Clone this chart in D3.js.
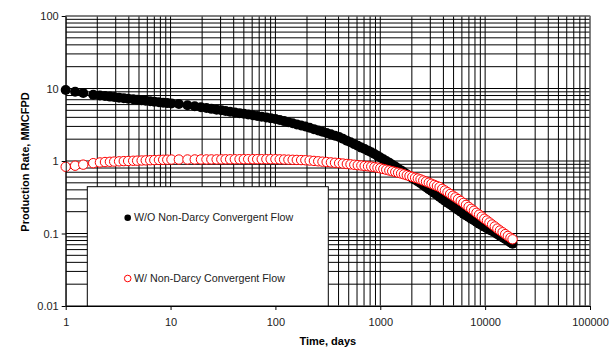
<!DOCTYPE html>
<html>
<head>
<meta charset="utf-8">
<script src="https://cdn.jsdelivr.net/npm/d3@7"></script>
<style>
  body { margin: 0; background: #fff; }
  svg { display: block; font-family: Arial, "Liberation Sans", sans-serif; }
</style>
</head>
<body>
<svg id="chart" width="616" height="347"></svg>
<script>
// Production time, days
const times = [
  1, 1.23, 1.47, 1.83, 2.12, 2.37, 2.64, 2.9, 3.23, 3.58, 3.94, 4.4, 4.8, 5.3, 5.8, 6.4, 7, 7.75, 8.5, 9.3, 10.2,
  12, 14.5, 17, 19.5, 22, 24.5, 27.5, 30.5, 33.5, 37,
  41, 45.5, 50, 55, 61, 67, 74, 82, 90, 100,
  110, 121, 133, 146, 160, 176, 193, 212, 233, 256,
  281, 308, 338, 370, 405, 440, 480, 520, 565, 610,
  660, 710, 765, 820, 880, 940, 1000, 1070, 1140, 1220,
  1300, 1390, 1480, 1580, 1680, 1790, 1900, 2020, 2150, 2280,
  2420, 2570, 2730, 2900, 3080, 3270, 3470, 3680, 3900, 4130,
  4380, 4640, 4920, 5210, 5520, 5850, 6200, 6570, 6960, 7370,
  7810, 8270, 8760, 9280, 9830, 10400, 11000, 11650, 12350, 13080,
  13850, 14670, 15540, 16460, 17430, 18250
];

// Gas rate without non-Darcy convergent flow, MMCFPD
const rateWithout = [
  9.51, 9.04, 8.65, 8.20, 8.00, 7.87, 7.73, 7.62, 7.48, 7.36, 7.25, 7.12, 7.02, 6.90, 6.80, 6.68, 6.59, 6.48, 6.38, 6.29, 6.23,
  6.10, 5.88, 5.68, 5.51, 5.37, 5.24, 5.11, 5.00, 4.89, 4.79,
  4.68, 4.57, 4.48, 4.38, 4.27, 4.18, 4.08, 3.98, 3.90, 3.80,
  3.67, 3.55, 3.42, 3.31, 3.20, 3.09, 2.99, 2.87, 2.75, 2.64,
  2.53, 2.43, 2.33, 2.23, 2.14, 2.03, 1.91, 1.81, 1.71, 1.62,
  1.53, 1.46, 1.39, 1.32, 1.25, 1.18, 1.12, 1.06, 1.00, 0.945,
  0.890, 0.838, 0.790, 0.742, 0.698, 0.656, 0.620, 0.585, 0.552, 0.521,
  0.492, 0.463, 0.435, 0.409, 0.385, 0.361, 0.339, 0.318, 0.299, 0.283,
  0.266, 0.251, 0.237, 0.223, 0.211, 0.199, 0.188, 0.178, 0.169, 0.160,
  0.152, 0.144, 0.136, 0.130, 0.124, 0.118, 0.113, 0.108, 0.103, 0.098,
  0.0933, 0.0885, 0.0839, 0.0796, 0.0755, 0.0724
];

// Gas rate with non-Darcy convergent flow, MMCFPD
const rateWith = [
  0.832, 0.861, 0.891, 0.933, 0.955, 0.968, 0.975, 0.982, 0.989, 0.996, 1.000, 1.007, 1.011, 1.016, 1.020, 1.025, 1.029, 1.035, 1.039, 1.043, 1.047,
  1.048, 1.049, 1.050, 1.051, 1.051, 1.052, 1.052, 1.053, 1.055, 1.056,
  1.057, 1.058, 1.059, 1.059, 1.059, 1.059, 1.059, 1.059, 1.059, 1.059,
  1.054, 1.049, 1.044, 1.039, 1.035, 1.030, 1.025, 1.015, 1.003, 0.991,
  0.979, 0.968, 0.956, 0.945, 0.934, 0.922, 0.910, 0.899, 0.887, 0.876,
  0.866, 0.856, 0.846, 0.837, 0.824, 0.810, 0.795, 0.776, 0.758, 0.740,
  0.723, 0.706, 0.690, 0.673, 0.655, 0.637, 0.621, 0.604, 0.588, 0.574,
  0.557, 0.538, 0.520, 0.502, 0.485, 0.468, 0.452, 0.437, 0.413, 0.392,
  0.371, 0.351, 0.332, 0.315, 0.298, 0.281, 0.264, 0.248, 0.233, 0.219,
  0.206, 0.193, 0.182, 0.171, 0.160, 0.151, 0.142, 0.133, 0.125, 0.117,
  0.110, 0.104, 0.098, 0.0925, 0.0873, 0.0832
];

const xTickValues = [1, 10, 100, 1000, 10000, 100000];
const xTickLabels = ["1", "10", "100", "1000", "10000", "100000"];
const yTickValues = [0.01, 0.1, 1, 10, 100];
const yTickLabels = ["0.01", "0.1", "1", "10", "100"];
const seriesNames = ["W/O Non-Darcy Convergent Flow", "W/ Non-Darcy Convergent Flow"];
const xTitle = "Time, days";
const yTitle = "Production Rate, MMCFPD";

// ---- layout ----
const plot = { left: 65.7, right: 590, top: 16, bottom: 306 };
const svg = d3.select("#chart");

const x = d3.scaleLog().domain([1, 100000]).range([plot.left, plot.right]);
const y = d3.scaleLog().domain([0.01, 100]).range([plot.bottom, plot.top]);

// ---- grid (major + minor decades) ----
const grid = svg.append("g").attr("stroke", "#000").attr("stroke-width", 1);
grid.selectAll("line.v").data(x.ticks()).join("line")
  .attr("class", "v")
  .attr("x1", d => x(d)).attr("x2", d => x(d))
  .attr("y1", plot.top).attr("y2", plot.bottom);
grid.selectAll("line.h").data(y.ticks()).join("line")
  .attr("class", "h")
  .attr("x1", plot.left).attr("x2", plot.right)
  .attr("y1", d => y(d)).attr("y2", d => y(d));

// plot frame (top / right edges grey)
svg.append("rect")
  .attr("x", plot.left).attr("y", plot.top)
  .attr("width", plot.right - plot.left).attr("height", plot.bottom - plot.top)
  .attr("fill", "none").attr("stroke", "#808080").attr("stroke-width", 1);

// ---- legend box ----
const legend = svg.append("g");
legend.append("rect")
  .attr("x", 87.3).attr("y", 186.7)
  .attr("width", 241).attr("height", plot.bottom - 186.7)
  .attr("fill", "#fff").attr("stroke", "#000").attr("stroke-width", 1);

// ---- series ----
const pts = times.map((t, i) => ({ t, a: rateWithout[i], b: rateWith[i] }));

svg.append("g").selectAll("circle").data(pts).join("circle")
  .attr("cx", d => x(d.t)).attr("cy", d => y(d.a))
  .attr("r", 5).attr("fill", "#000");

svg.append("g").selectAll("circle").data(pts).join("circle")
  .attr("cx", d => x(d.t)).attr("cy", d => y(d.b))
  .attr("r", 4.7).attr("fill", "#fff").attr("stroke", "#ff0000").attr("stroke-width", 1);

// ---- legend entries ----
const legendRows = [
  { name: seriesNames[0], fill: "#000", stroke: "none", cy: 217.7 },
  { name: seriesNames[1], fill: "#fff", stroke: "#ff0000", cy: 278.5 }
];
legendRows.forEach(r => {
  legend.append("circle").attr("cx", 127.7).attr("cy", r.cy).attr("r", 3.3)
    .attr("fill", r.fill).attr("stroke", r.stroke).attr("stroke-width", 1);
  legend.append("text").attr("x", 134).attr("y", r.cy).attr("dy", "0.35em")
    .attr("font-size", "10.7px").attr("fill", "#222").text(r.name);
});

// ---- axes ----
const xAxis = d3.axisBottom(x).tickValues(xTickValues)
  .tickFormat((d, i) => xTickLabels[i]).tickSize(4).tickSizeOuter(0).tickPadding(8);
const yAxis = d3.axisLeft(y).tickValues(yTickValues)
  .tickFormat((d, i) => yTickLabels[i]).tickSize(4).tickSizeOuter(0).tickPadding(3);

const gx = svg.append("g").attr("transform", `translate(0,${plot.bottom})`).call(xAxis);
const gy = svg.append("g").attr("transform", `translate(${plot.left},0)`).call(yAxis);
[gx, gy].forEach(g => {
  g.selectAll("text").attr("font-size", "11px").attr("font-family", "Arial, 'Liberation Sans', sans-serif").attr("fill", "#222");
  g.select(".domain").attr("stroke", "#000");
  g.selectAll(".tick line").attr("stroke", "#000");
});

// axis titles
svg.append("text")
  .attr("x", (plot.left + plot.right) / 2).attr("y", 345)
  .attr("text-anchor", "middle").attr("font-weight", "bold").attr("font-size", "11px")
  .text(xTitle);
svg.append("text")
  .attr("transform", `translate(28.5,${(plot.top + plot.bottom) / 2 + 1}) rotate(-90)`)
  .attr("text-anchor", "middle").attr("font-weight", "bold").attr("font-size", "11px")
  .text(yTitle);
</script>
</body>
</html>
